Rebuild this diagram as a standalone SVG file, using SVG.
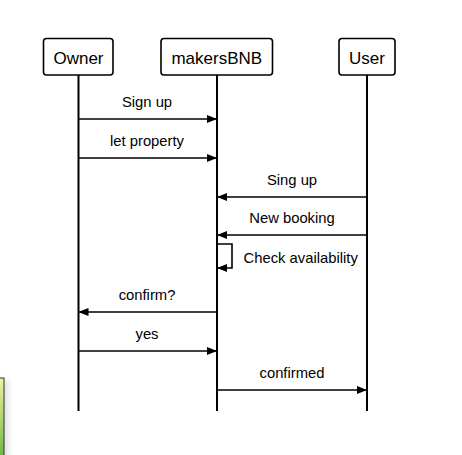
<svg xmlns="http://www.w3.org/2000/svg" width="462" height="455" viewBox="0 0 462 455">
  <style>
    .box { fill: #ffffff; stroke: #000000; stroke-width: 1.6; }
    .head { font-family: "Liberation Sans", Arial, sans-serif; font-size: 17px; fill: #000000; text-anchor: middle; }
    .life { stroke: #000000; stroke-width: 2; fill: none; }
    .msg { stroke: #000000; stroke-width: 1.6; fill: none; }
    .lbl { font-family: "Liberation Sans", Arial, sans-serif; font-size: 14.8px; fill: #000000; text-anchor: middle; }
    .lbl-start { text-anchor: start; }
  </style>
  <defs>
    <marker id="arrow" viewBox="0 0 10 10" refX="10" refY="5" markerWidth="10" markerHeight="10" markerUnits="userSpaceOnUse" orient="auto">
      <path d="M0,1 L10,5 L0,9 Z" fill="#000000"/>
    </marker>
    <linearGradient id="noteFill" x1="0" y1="0" x2="0" y2="1">
      <stop offset="0" stop-color="#f4f0a0"/>
      <stop offset="1" stop-color="#5bb03c"/>
    </linearGradient>
    <filter id="soft" x="-50%" y="-10%" width="300%" height="130%">
      <feGaussianBlur stdDeviation="3"/>
    </filter>
  </defs>

  <rect width="462" height="455" fill="#ffffff"/>

  <!-- partially visible note at the left edge -->
  <g id="edge-note">
    <rect x="-6" y="380" width="14" height="90" fill="#000000" opacity="0.12" filter="url(#soft)"/>
    <rect x="-10" y="378" width="14" height="90" fill="url(#noteFill)" stroke="#333333" stroke-width="1"/>
  </g>

  <!-- lifelines -->
  <g id="lifelines">
    <line class="life" x1="78.5" y1="75" x2="78.5" y2="411"/>
    <line class="life" x1="217" y1="75" x2="217" y2="411"/>
    <line class="life" x1="367" y1="75" x2="367" y2="411"/>
  </g>

  <g id="owner">
    <rect class="box" x="43.5" y="38.5" width="69.5" height="36.5" rx="3"/>
    <text class="head" x="78.5" y="63.5">Owner</text>
  </g>
  <g id="makersbnb">
    <rect class="box" x="161" y="38.5" width="111.5" height="36.5" rx="3"/>
    <text class="head" x="216.8" y="63.5">makersBNB</text>
  </g>
  <g id="user">
    <rect class="box" x="339" y="38.5" width="56" height="36.5" rx="3"/>
    <text class="head" x="367" y="63.5">User</text>
  </g>

  <!-- messages -->
  <g id="connectors">
    <line class="msg" x1="78.5" y1="119" x2="217" y2="119" marker-end="url(#arrow)"/>
    <text class="lbl" x="147" y="107.3">Sign up</text>

    <line class="msg" x1="78.5" y1="158" x2="217" y2="158" marker-end="url(#arrow)"/>
    <text class="lbl" x="147" y="146.3">let property</text>

    <line class="msg" x1="367" y1="197" x2="217" y2="197" marker-end="url(#arrow)"/>
    <text class="lbl" x="292" y="185.3">Sing up</text>

    <line class="msg" x1="367" y1="235" x2="217" y2="235" marker-end="url(#arrow)"/>
    <text class="lbl" x="292" y="223.3">New booking</text>

    <polyline class="msg" points="217,244 232,244 232,268 217,268" marker-end="url(#arrow)"/>
    <text class="lbl lbl-start" x="243.5" y="263.3">Check availability</text>

    <line class="msg" x1="217" y1="312" x2="78.5" y2="312" marker-end="url(#arrow)"/>
    <text class="lbl" x="147" y="300.3">confirm?</text>

    <line class="msg" x1="78.5" y1="351" x2="217" y2="351" marker-end="url(#arrow)"/>
    <text class="lbl" x="147" y="339.3">yes</text>

    <line class="msg" x1="217" y1="390" x2="367" y2="390" marker-end="url(#arrow)"/>
    <text class="lbl" x="292" y="378.3">confirmed</text>
  </g>
</svg>
